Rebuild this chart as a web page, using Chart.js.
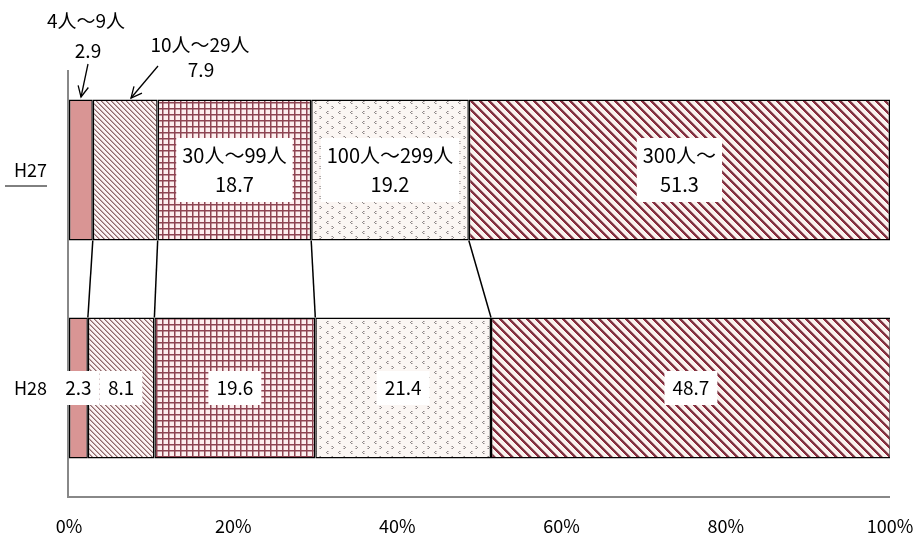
<!DOCTYPE html>
<html><head><meta charset="utf-8">
<script src="https://cdn.jsdelivr.net/npm/chart.js@4.4.1/dist/chart.umd.min.js"></script>
<style>html,body{margin:0;padding:0;background:#fff;}#wrap{width:915px;height:536px;}</style>
</head><body><div id="wrap"><canvas id="c" width="915" height="536"></canvas></div>
<script>
const categories = ["H27", "H28"];
const sizeClasses = ["4人～9人", "10人～29人", "30人～99人", "100人～299人", "300人～"];
const seriesH27 = [2.9, 7.9, 18.7, 19.2, 51.3];
const seriesH28 = [2.3, 8.1, 19.6, 21.4, 48.7];
const xTicks = [0, 20, 40, 60, 80, 100];

const FONT = '"Noto Sans CJK JP", "Noto Sans", sans-serif';

function mk(w, h, draw) {
  const c = document.createElement('canvas'); c.width = w; c.height = h;
  const g = c.getContext('2d'); draw(g, w, h);
  return document.getElementById('c').getContext('2d').createPattern(c, 'repeat');
}
const patterns = [
  '#D99594',
  mk(5, 5, (g) => { g.fillStyle = '#fbf3f3'; g.fillRect(0,0,5,5);
    for (let i=0;i<5;i++){ g.fillStyle = '#8c6a6c'; g.fillRect(i, i, 1, 1); g.fillStyle = '#c4a4a6'; g.fillRect((i+1)%5, i, 1, 1); } }),
  mk(6, 6, (g) => { g.fillStyle = '#fdeeee'; g.fillRect(0,0,6,6); g.fillStyle = '#8e4452';
    g.fillRect(0,0,6,1.5); g.fillRect(0,0,1.5,6); }),
  mk(12, 10, (g) => { g.fillStyle = '#fbf6f3'; g.fillRect(0,0,12,10); g.fillStyle = '#8e8888';
    g.fillRect(3,1,1,1); g.fillRect(2,2,1,1); g.fillRect(3,3,1,1);
    g.fillRect(8,6,1,1); g.fillRect(9,7,1,1); g.fillRect(8,8,1,1);
    g.fillStyle = '#c6bcbc'; g.fillRect(4,1,1,1); g.fillRect(4,3,1,1); g.fillRect(7,6,1,1); g.fillRect(7,8,1,1); }),
  mk(9, 9, (g) => { g.fillStyle = '#fdf2f0'; g.fillRect(0,0,9,9);
    for (let i=0;i<9;i++){ g.fillStyle = '#8c2b3e'; g.fillRect(i, i, 1, 1); g.fillRect((i+1)%9, i, 1, 1); g.fillStyle='#6a4044'; g.fillRect((i+2)%9, i, 1, 1); g.fillStyle='#d4a0a8'; g.fillRect((i+3)%9, i, 1, 1); g.fillStyle='#eef4ea'; g.fillRect((i+6)%9, i, 1, 1);} })
];

const datasets = sizeClasses.map((name, i) => ({
  label: name,
  data: [seriesH27[i], seriesH28[i]],
  backgroundColor: patterns[i],
  borderColor: '#000',
  borderWidth: 1.5,
  borderSkipped: false,
  barPercentage: 0.647,
  categoryPercentage: 1
}));

const overlay = {
  id: 'overlay',
  afterDatasetsDraw(chart) {
    const ctx = chart.ctx, xs = chart.scales.x, ys = chart.scales.y, ca = chart.chartArea;
    ctx.save();
    ctx.strokeStyle = '#888'; ctx.lineWidth = 2;
    ctx.beginPath(); ctx.moveTo(ca.left - 1, ca.top + 9); ctx.lineTo(ca.left - 1, ca.bottom);
    ctx.lineTo(ca.right, ca.bottom); ctx.stroke();
    ctx.strokeStyle = '#000'; ctx.lineWidth = 1.5;
    const m0 = chart.getDatasetMeta(0).data;
    const yTop = m0[0].y + m0[0].height / 2, yBot = m0[1].y - m0[1].height / 2;
    let c0 = 0, c1 = 0;
    for (let i = 0; i < sizeClasses.length - 1; i++) {
      c0 += seriesH27[i]; c1 += seriesH28[i];
      ctx.beginPath(); ctx.moveTo(xs.getPixelForValue(c0), yTop); ctx.lineTo(xs.getPixelForValue(c1), yBot); ctx.stroke();
    }
    ctx.textAlign = 'center'; ctx.textBaseline = 'middle';
    function box(lines, cx, cy, fs, lh, padX, padY) {
      ctx.font = fs + 'px ' + FONT;
      const w = Math.max(...lines.map(l => ctx.measureText(l).width)) + padX * 2;
      const h = lines.length * lh + padY * 2;
      ctx.fillStyle = '#fff'; ctx.fillRect(cx - w / 2, cy - h / 2, w, h);
      ctx.fillStyle = '#000';
      lines.forEach((l, k) => ctx.fillText(l, cx, cy - h / 2 + padY + lh * (k + 0.5)));
    }
    const yc27 = ys.getPixelForValue(0), yc28 = ys.getPixelForValue(1);
    let cum = 0;
    sizeClasses.forEach((name, i) => {
      const v = seriesH27[i], cx = xs.getPixelForValue(cum + v / 2);
      if (i >= 2) box([name, v.toFixed(1)], cx, yc27, 20, 29, 6, 3);
      cum += v;
    });
    cum = 0;
    sizeClasses.forEach((name, i) => {
      const v = seriesH28[i], cx = xs.getPixelForValue(cum + v / 2);
      box([v.toFixed(1)], cx, yc28, 19, 28, 8, 3);
      cum += v;
    });
    ctx.font = '19px ' + FONT; ctx.fillStyle = '#000';
    ctx.fillText(sizeClasses[0], 86, 21); ctx.fillText(seriesH27[0].toFixed(1), 88, 51);
    ctx.fillText(sizeClasses[1], 200, 45); ctx.fillText(seriesH27[1].toFixed(1), 201, 70);
    function arrow(x1, y1, x2, y2) {
      ctx.strokeStyle = '#000'; ctx.lineWidth = 1.3;
      ctx.beginPath(); ctx.moveTo(x1, y1); ctx.lineTo(x2, y2); ctx.stroke();
      const a = Math.atan2(y2 - y1, x2 - x1), L = 12, s = 0.45;
      ctx.beginPath();
      ctx.moveTo(x2 - L * Math.cos(a - s), y2 - L * Math.sin(a - s)); ctx.lineTo(x2, y2);
      ctx.lineTo(x2 - L * Math.cos(a + s), y2 - L * Math.sin(a + s)); ctx.stroke();
    }
    arrow(88, 64, 81, 97);
    arrow(158, 66, 131, 98);
    ctx.strokeStyle = '#000'; ctx.lineWidth = 1;
    ctx.beginPath(); ctx.moveTo(5, yc27 + 16); ctx.lineTo(47, yc27 + 16); ctx.stroke();
    ctx.restore();
  }
};

new Chart(document.getElementById('c'), {
  type: 'bar',
  data: { labels: categories, datasets },
  options: {
    indexAxis: 'y',
    responsive: false,
    animation: false,
    layout: { padding: { top: 61, right: 25, left: 0, bottom: 0 } },
    plugins: { legend: { display: false }, tooltip: { enabled: false } },
    scales: {
      x: {
        stacked: true, min: 0, max: 100,
        afterBuildTicks: (s) => { s.ticks = xTicks.map(v => ({ value: v })); },
        ticks: { callback: (v) => v + '%', color: '#000', font: { family: FONT, size: 18 }, padding: 10, maxRotation: 0 },
        grid: { display: false }, border: { display: false },
        afterFit: (s) => { s.height = 39; s.paddingRight = 0; s.paddingLeft = 0; }
      },
      y: {
        stacked: true,
        ticks: { color: '#000', font: { family: FONT, size: 18 }, padding: 14 },
        grid: { display: false }, border: { display: false },
        afterFit: (s) => { s.width = 69; }
      }
    }
  },
  plugins: [overlay]
});
</script></body></html>
